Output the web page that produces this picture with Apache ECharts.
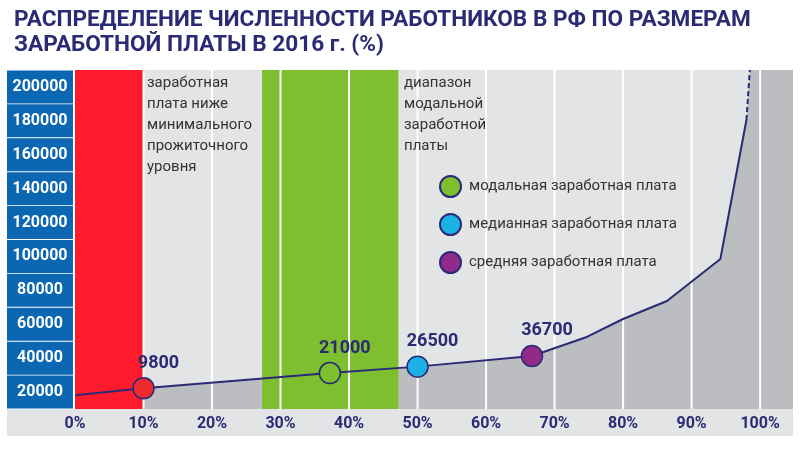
<!DOCTYPE html>
<html>
<head>
<meta charset="utf-8">
<script src="https://cdn.jsdelivr.net/npm/echarts@6/dist/echarts.min.js"></script>
<style>
html,body{margin:0;padding:0;background:#fff;}
#chart{width:800px;height:450px;}
</style>
</head>
<body>
<div id="chart"></div>
<script>
// ---- data ----
const yCategories = ['20000','40000','60000','80000','100000','120000','140000','160000','180000','200000'];
const xGridTicks = [10,20,30,40,50,60,70,80,90,100];
const curveX = [0, 10, 37.2, 50, 66.7, 74.7, 80.0, 86.4, 94.2, 98.0];
const curveY = [8100, 12200, 21200, 25000, 31300, 42500, 53100, 63700, 88500, 170500];
const dashX = [98.0, 98.5];
const dashY = [170500, 200000];
const bandFrom = [0, 27.3];
const bandTo = [10, 47.2];
const pointNames = ['', 'модальная заработная плата', 'медианная заработная плата', 'средняя заработная плата'];
const pointX = [10, 37.2, 50, 66.7];
const pointY = [12200, 21200, 25000, 31300];
const pointLabels = ['9800', '21000', '26500', '36700'];
const titleLines = ['РАСПРЕДЕЛЕНИЕ ЧИСЛЕННОСТИ РАБОТНИКОВ В РФ ПО РАЗМЕРАМ', 'ЗАРАБОТНОЙ ПЛАТЫ В 2016 г. (%)'];
const noteLow = ['заработная', 'плата ниже', 'минимального', 'прожиточного', 'уровня'];
const noteModal = ['диапазон', 'модальной', 'заработной', 'платы'];

const Y_MAX = 200000;
const X_MAX = 104.8;
const bandColors = ['#ff1b2b', '#7dbf2f'];
const pointColors = ['#ee2a2f', '#7dbf2f', '#1db2e6', '#922a8c'];
const NAVY = '#2a2a75';

const areaData = curveX.map((x, i) => [x, curveY[i]]);
areaData.push([dashX[1], dashY[1]]);
areaData.push([X_MAX, Y_MAX]);

const series = [];
series.push({
  type: 'line', yAxisIndex: 1, z: 1, silent: true,
  data: areaData, symbol: 'none',
  lineStyle: { width: 0 },
  areaStyle: { color: '#bcbdc1', opacity: 1 }
});
series.push({
  type: 'custom', yAxisIndex: 1, z: 2, silent: true,
  data: bandFrom.map((f, i) => [f, bandTo[i], i]),
  renderItem: function (params, api) {
    const p0 = api.coord([api.value(0), Y_MAX]);
    const p1 = api.coord([api.value(1), 0]);
    return { type: 'rect', shape: { x: p0[0], y: p0[1], width: p1[0] - p0[0], height: p1[1] - p0[1] },
      style: { fill: bandColors[api.value(2)] } };
  }
});
series.push({
  type: 'custom', yAxisIndex: 1, z: 3, silent: true,
  data: xGridTicks.map(v => [v]),
  renderItem: function (params, api) {
    const p0 = api.coord([api.value(0), Y_MAX]);
    const p1 = api.coord([api.value(0), 0]);
    return { type: 'line', shape: { x1: p0[0], y1: p0[1], x2: p1[0], y2: p1[1] },
      style: { stroke: '#ffffff', lineWidth: 2 } };
  }
});
series.push({
  type: 'line', yAxisIndex: 1, z: 4, silent: true, symbol: 'none',
  data: curveX.map((x, i) => [x, curveY[i]]),
  lineStyle: { color: NAVY, width: 2 }
});
series.push({
  type: 'line', yAxisIndex: 1, z: 4, silent: true, symbol: 'none',
  data: dashX.map((x, i) => [x, dashY[i]]),
  lineStyle: { color: NAVY, width: 2, type: [5, 3] }
});
pointX.forEach((x, i) => {
  series.push({
    type: 'scatter', yAxisIndex: 1, z: 5, name: pointNames[i] || 'min',
    data: [[x, pointY[i]]], symbolSize: 21,
    itemStyle: { color: pointColors[i], borderColor: NAVY, borderWidth: 1.5, opacity: 1 },
    label: { show: true, position: 'inside', offset: [15, -25], formatter: pointLabels[i],
      color: NAVY, fontSize: 18, fontWeight: 'bold', fontFamily: 'Roboto' }
  });
});

const graphics = [
  { type: 'rect', z: -1, shape: { x: 7, y: 409, width: 786, height: 27 }, style: { fill: '#e3e4e6' } },
  { type: 'text', z: 10, left: 147, top: 73, style: { text: noteLow.join('\n'), fontSize: 15, lineHeight: 21, fill: '#333', fontFamily: 'Roboto' } },
  { type: 'text', z: 10, left: 404, top: 73, style: { text: noteModal.join('\n'), fontSize: 15, lineHeight: 21, fill: '#333', fontFamily: 'Roboto' } }
];

const chart = echarts.init(document.getElementById('chart'));
chart.setOption({
  animation: false,
  backgroundColor: '#ffffff',
  title: {
    text: titleLines.join('\n'), left: 9, top: 3,
    textStyle: { fontSize: 22.6, lineHeight: 25, fontWeight: 'bold', color: NAVY, fontFamily: 'Roboto' }
  },
  legend: {
    data: pointNames.slice(1), orient: 'vertical', left: 434, top: 170,
    itemWidth: 21, itemHeight: 21, itemGap: 15, icon: 'circle',
    textStyle: { fontSize: 15, color: '#333', fontFamily: 'Roboto', padding: [0, 0, 0, 3] },
    selectedMode: false
  },
  grid: { left: 75, right: 7, top: 70, bottom: 41, show: true, backgroundColor: '#e3e4e6', borderWidth: 0 },
  xAxis: {
    type: 'value', min: 0, max: X_MAX, interval: 10,
    axisLine: { show: false }, axisTick: { show: false }, splitLine: { show: false },
    axisLabel: { margin: 7, color: NAVY, fontSize: 16, fontWeight: 'bold', fontFamily: 'Roboto',
      formatter: v => (v <= 100 ? v + '%' : '') }
  },
  yAxis: [
    {
      type: 'category', data: yCategories, boundaryGap: true, position: 'left',
      axisLine: { show: false }, axisTick: { show: false }, splitLine: { show: false },
      axisLabel: { margin: 2, formatter: v => '{c|' + v + '}',
        rich: { c: { width: 66, height: 33, lineHeight: 33, align: 'center', backgroundColor: '#0b67b1',
          color: '#fff', fontSize: 16, fontWeight: 'bold', fontFamily: 'Roboto' } } }
    },
    { type: 'value', min: 0, max: Y_MAX, show: false }
  ],
  graphic: graphics,
  series: series
});
</script>
</body>
</html>
